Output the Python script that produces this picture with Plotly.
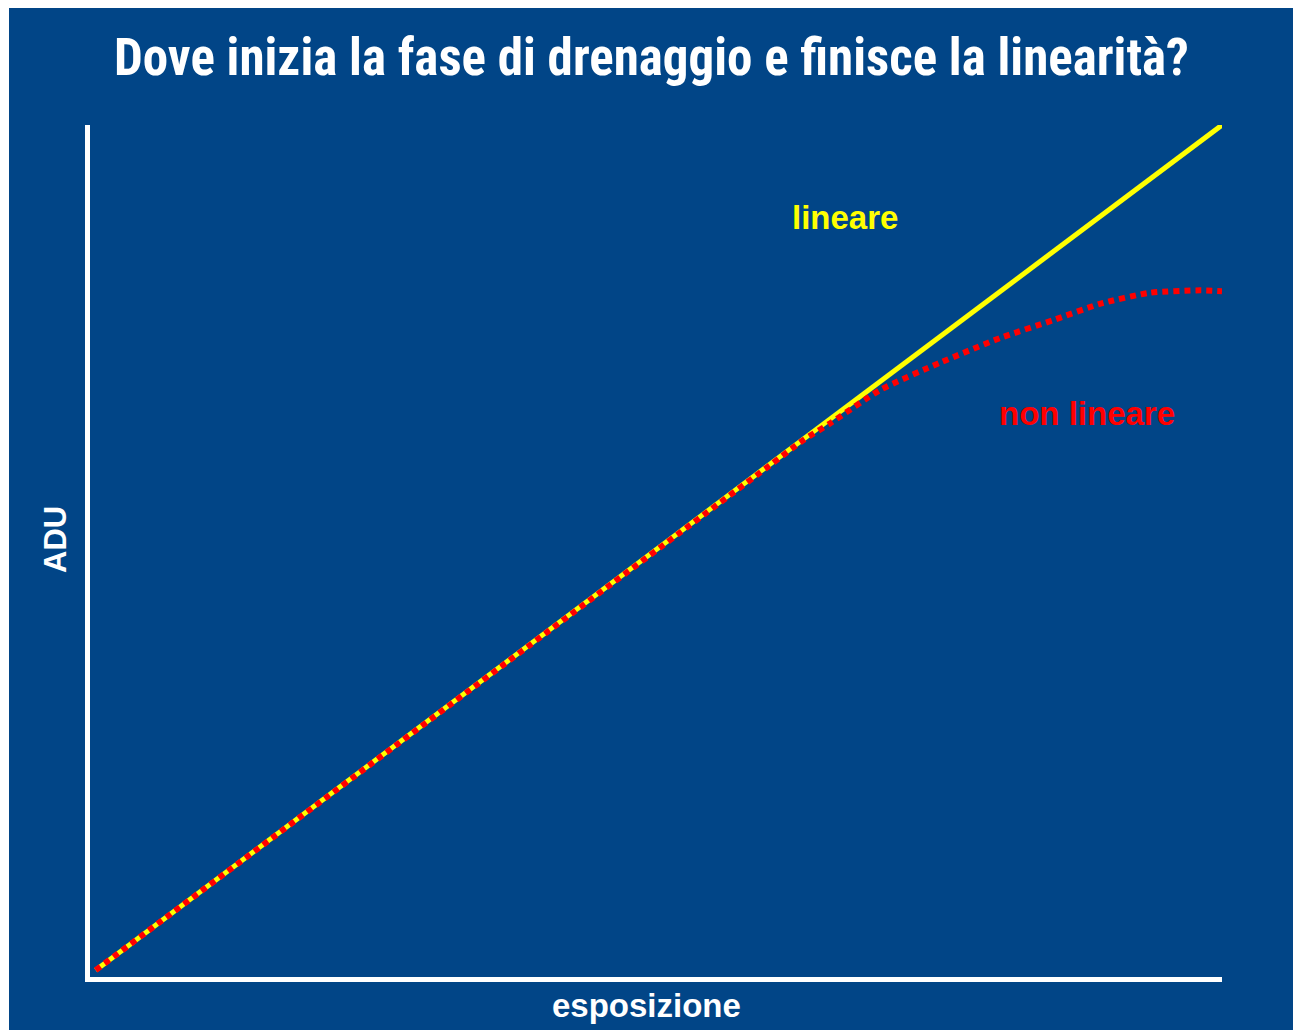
import plotly.graph_objects as go

# Exposure (x) versus detector counts (ADU, y), arbitrary units
linear_x = [0.5, 100]
linear_adu = [0.8, 100]

nonlinear_x = [0.5, 60, 63, 65.4, 69.8, 75.1, 80.4, 85.1, 89.2, 93.6, 98.1, 100]
nonlinear_adu = [0.8, 60.0, 63.0, 65.0, 68.9, 72.1, 75.0, 77.1, 79.0, 80.3, 80.6, 80.5]

title_text = "Dove inizia la fase di drenaggio e finisce la linearità?"
x_label = "esposizione"
y_label = "ADU"
linear_label = "lineare"
nonlinear_label = "non lineare"

BLUE = "#014587"
YELLOW = "#FFFF00"
RED = "#FF0000"
LABEL_FONT = "Liberation Sans, Arial, sans-serif"
TITLE_FONT = "Roboto Condensed, Arial Narrow, Roboto, sans-serif"

# plot area in pixels: left 90, right 1222, top 125, bottom 977
PX_W = 1132
PX_H = 852


def px_to_paper_x(px):
    return (px - 90) / PX_W


def px_to_paper_y(py):
    return (977 - py) / PX_H


fig = go.Figure()

fig.add_trace(go.Scatter(
    x=linear_x, y=linear_adu, mode="lines",
    line=dict(color=YELLOW, width=5),
    hoverinfo="skip", showlegend=False,
))
fig.add_trace(go.Scatter(
    x=nonlinear_x, y=nonlinear_adu, mode="lines",
    line=dict(color=RED, width=6, dash="6px,5px", shape="spline", smoothing=0.6),
    hoverinfo="skip", showlegend=False,
))

annotations = [
    dict(x=66.7, y=89.2, xref="x", yref="y", text=f"<b>{linear_label}</b>",
         showarrow=False, font=dict(family=LABEL_FONT, size=33, color=YELLOW)),
    dict(x=88.1, y=66.1, xref="x", yref="y", text=f"<b>{nonlinear_label}</b>",
         showarrow=False, font=dict(family=LABEL_FONT, size=33, color=RED)),
    dict(x=px_to_paper_x(646), y=px_to_paper_y(1005), xref="paper", yref="paper",
         text=f"<b>{x_label}</b>", showarrow=False, xanchor="center", yanchor="middle",
         font=dict(family=LABEL_FONT, size=33, color="white")),
    dict(x=px_to_paper_x(55), y=px_to_paper_y(540), xref="paper", yref="paper",
         text=f"<b>{y_label}</b>", showarrow=False, textangle=-90,
         xanchor="center", yanchor="middle",
         font=dict(family=LABEL_FONT, size=31, color="white")),
    dict(x=px_to_paper_x(651), y=px_to_paper_y(58), xref="paper", yref="paper",
         text=f"<b>{title_text}</b>", showarrow=False, xanchor="center", yanchor="middle",
         font=dict(family=TITLE_FONT, size=51, color="white")),
]

fig.update_layout(
    width=1293, height=1030,
    margin=dict(l=90, r=71, t=125, b=53),
    paper_bgcolor="white",
    plot_bgcolor="rgba(0,0,0,0)",
    shapes=[dict(type="rect", xref="paper", yref="paper",
                 x0=px_to_paper_x(9), x1=px_to_paper_x(1300),
                 y0=px_to_paper_y(1040), y1=px_to_paper_y(8),
                 fillcolor=BLUE, line=dict(width=0), layer="below")],
    annotations=annotations,
    xaxis=dict(range=[0, 100], showline=True, linecolor="white", linewidth=5,
               showgrid=False, zeroline=False, showticklabels=False, ticks=""),
    yaxis=dict(range=[0, 100], showline=True, linecolor="white", linewidth=5,
               showgrid=False, zeroline=False, showticklabels=False, ticks=""),
)

fig.write_html("out.html")
